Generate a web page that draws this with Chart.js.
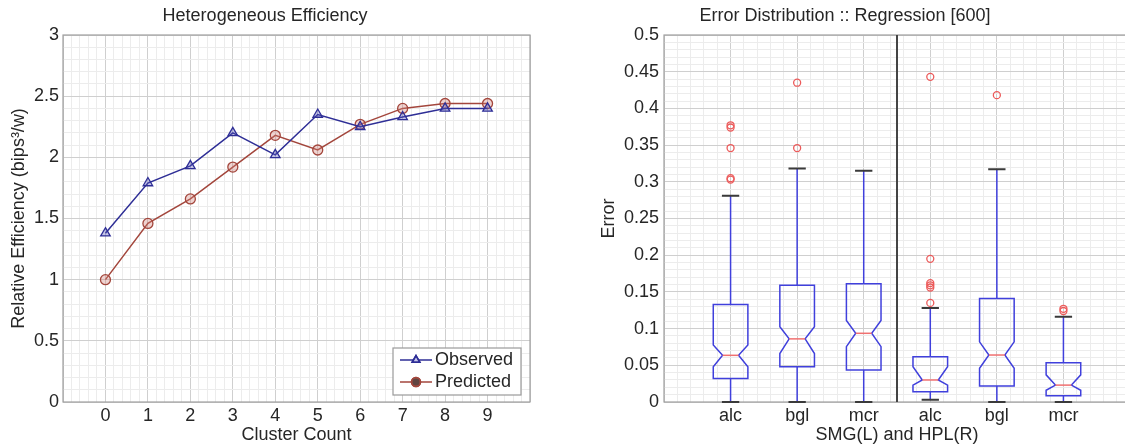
<!DOCTYPE html>
<html>
<head>
<meta charset="utf-8">
<script src="https://cdn.jsdelivr.net/npm/chart.js@4.4.0/dist/chart.umd.min.js"></script>
<style>
  html, body { margin: 0; padding: 0; background: #fff; overflow: hidden; width: 1125px; height: 448px; }
  #left { position: absolute; left: 0; top: 0; width: 560px; height: 448px; }
  #right { position: absolute; left: 560px; top: 0; width: 600px; height: 448px; }
</style>
</head>
<body>
<div id="left"><canvas id="efficiency-chart"></canvas></div>
<div id="right"><canvas id="error-chart"></canvas></div>
<script>
// left panel: heterogeneous efficiency
const clusterCounts = [0, 1, 2, 3, 4, 5, 6, 7, 8, 9];
const observed = [1.38, 1.79, 1.93, 2.20, 2.02, 2.35, 2.25, 2.33, 2.40, 2.40];
const predicted = [1.00, 1.46, 1.66, 1.92, 2.18, 2.06, 2.27, 2.40, 2.44, 2.44];

// right panel: error boxplots (SMG left three, HPL right three)
const boxLabels = ['alc', 'bgl', 'mcr', 'alc', 'bgl', 'mcr'];
const whiskerLow = [0, 0, 0, 0.003, 0, 0];
const q1 = [0.032, 0.048, 0.0436, 0.014, 0.0218, 0.0086];
const notchLow = [0.048, 0.066, 0.0754, 0.023, 0.046, 0.016];
const medians = [0.0636, 0.086, 0.0936, 0.030, 0.064, 0.023];
const notchHigh = [0.0777, 0.1026, 0.111, 0.048, 0.082, 0.037];
const q3 = [0.133, 0.159, 0.161, 0.0618, 0.141, 0.0536];
const whiskerHigh = [0.281, 0.318, 0.315, 0.128, 0.317, 0.116];
const outliers = [
  [0.303, 0.305, 0.346, 0.374, 0.377],
  [0.346, 0.435],
  [],
  [0.135, 0.156, 0.159, 0.162, 0.195, 0.443],
  [0.418],
  [0.124, 0.127]
];

const FONT = "'Liberation Sans', Arial, sans-serif";
const TEXT = '#262626';
const GRID_MAJOR = '#cfcfcf';
const GRID_MINOR = '#ececec';

function stepTicks(min, max, step) {
  const out = [];
  const n = Math.round((max - min) / step);
  for (let i = 0; i <= n; i++) out.push({ value: +(min + i * step).toFixed(6) });
  return out;
}
const isMajor = (v, major) => Math.abs(v / major - Math.round(v / major)) < 1e-6;
const fmt = v => String(+v.toFixed(2));

// gray box round the axes
const axesBox = {
  id: 'axesBox',
  beforeDatasetsDraw(chart) {
    const { ctx, chartArea: a } = chart;
    ctx.save();
    ctx.strokeStyle = '#a0a0a0';
    ctx.lineWidth = 1.2;
    ctx.strokeRect(a.left, a.top, a.right - a.left, a.bottom - a.top);
    ctx.restore();
  }
};

// matlab style legend, line + marker
const lineLegend = {
  id: 'lineLegend',
  afterDraw(chart) {
    const { ctx, chartArea: a } = chart;
    const w = 128, h = 47;
    const x0 = a.right - 9 - w, y0 = a.bottom - 7 - h;
    ctx.save();
    ctx.fillStyle = '#fff';
    ctx.fillRect(x0, y0, w, h);
    ctx.strokeStyle = '#9a9a9a';
    ctx.lineWidth = 1.2;
    ctx.strokeRect(x0, y0, w, h);
    ctx.font = '18px ' + FONT;
    ctx.textBaseline = 'middle';
    chart.data.datasets.forEach((ds, i) => {
      const y = y0 + 12 + i * 22;
      ctx.strokeStyle = ds.borderColor;
      ctx.lineWidth = 1.5;
      ctx.beginPath();
      ctx.moveTo(x0 + 7, y);
      ctx.lineTo(x0 + 39, y);
      ctx.stroke();
      Chart.helpers.drawPoint(ctx, {
        pointStyle: ds.pointStyle, radius: 4.5, borderWidth: 1.3, rotation: 0
      }, x0 + 23, y);
      ctx.fillStyle = ds.pointBackgroundColor;
      ctx.fill();
      ctx.stroke();
      ctx.fillStyle = TEXT;
      ctx.fillText(ds.label, x0 + 42, y);
    });
    ctx.restore();
  }
};

new Chart(document.getElementById('efficiency-chart'), {
  type: 'line',
  data: {
    datasets: [
      {
        label: 'Observed',
        data: clusterCounts.map((c, i) => ({ x: c, y: observed[i] })),
        borderColor: '#2e2e96',
        borderWidth: 1.5,
        pointStyle: 'triangle',
        pointRadius: 5.5,
        pointBorderWidth: 1.3,
        pointBackgroundColor: 'rgba(90,90,190,0.35)',
        pointBorderColor: '#2e2e96'
      },
      {
        label: 'Predicted',
        data: clusterCounts.map((c, i) => ({ x: c, y: predicted[i] })),
        borderColor: '#a3463c',
        borderWidth: 1.5,
        pointStyle: 'circle',
        pointRadius: 5,
        pointBorderWidth: 1.3,
        pointBackgroundColor: 'rgba(210,130,120,0.35)',
        pointBorderColor: '#a3463c'
      }
    ]
  },
  options: {
    responsive: true,
    maintainAspectRatio: false,
    animation: false,
    layout: { padding: { left: 0, right: 30, top: 0, bottom: 0 } },
    plugins: {
      legend: { display: false },
      tooltip: { enabled: false },
      title: {
        display: true,
        text: 'Heterogeneous Efficiency',
        color: TEXT,
        font: { family: FONT, size: 18, weight: 'normal' },
        padding: { top: 5, bottom: 8.4 }
      }
    },
    scales: {
      x: {
        type: 'linear',
        min: -1,
        max: 10,
        afterBuildTicks: s => { s.ticks = stepTicks(-1, 10, 0.2); },
        afterFit: s => { s.height = 46; },
        ticks: {
          autoSkip: false, maxRotation: 0, padding: 3, color: TEXT,
          font: { family: FONT, size: 18 },
          callback: v => (isMajor(v, 1) && v >= 0 && v <= 9) ? String(Math.round(v)) : ''
        },
        grid: { drawTicks: false, color: c => isMajor(c.tick.value, 1) ? GRID_MAJOR : GRID_MINOR },
        border: { display: false },
        title: { display: true, text: 'Cluster Count', color: TEXT, font: { family: FONT, size: 18 }, padding: { top: 0, bottom: 2 } }
      },
      y: {
        min: 0,
        max: 3,
        afterBuildTicks: s => { s.ticks = stepTicks(0, 3, 0.1); },
        afterFit: s => { s.width = 63; },
        ticks: {
          autoSkip: false, padding: 4, color: TEXT,
          font: { family: FONT, size: 18 },
          callback: v => isMajor(v, 0.5) ? fmt(v) : ''
        },
        grid: { drawTicks: false, color: c => isMajor(c.tick.value, 0.5) ? GRID_MAJOR : GRID_MINOR },
        border: { display: false },
        title: { display: true, text: 'Relative Efficiency (bips³/w)', color: TEXT, font: { family: FONT, size: 18 }, padding: { top: 8, bottom: 0 } }
      }
    }
  },
  plugins: [axesBox, lineLegend]
});

// notched boxes, whiskers and the SMG/HPL divider, all through the scales
const notchedBoxes = {
  id: 'notchedBoxes',
  beforeDatasetsDraw(chart) {
    const { ctx, scales: { x, y }, chartArea: a } = chart;
    const hw = 0.26, nw = 0.12, cw = 0.13;
    ctx.save();
    boxLabels.forEach((lab, i) => {
      const p = i + 1;
      const X = v => x.getPixelForValue(v);
      const Y = v => y.getPixelForValue(v);
      // whiskers
      ctx.strokeStyle = '#4040dc';
      ctx.lineWidth = 1.5;
      ctx.beginPath();
      ctx.moveTo(X(p), Y(q3[i])); ctx.lineTo(X(p), Y(whiskerHigh[i]));
      ctx.moveTo(X(p), Y(q1[i])); ctx.lineTo(X(p), Y(whiskerLow[i]));
      ctx.stroke();
      // caps
      ctx.strokeStyle = '#3a3a3a';
      ctx.lineWidth = 2;
      ctx.beginPath();
      ctx.moveTo(X(p - cw), Y(whiskerHigh[i])); ctx.lineTo(X(p + cw), Y(whiskerHigh[i]));
      ctx.moveTo(X(p - cw), Y(whiskerLow[i])); ctx.lineTo(X(p + cw), Y(whiskerLow[i]));
      ctx.stroke();
      // notched box
      ctx.strokeStyle = '#4040dc';
      ctx.lineWidth = 1.5;
      ctx.beginPath();
      ctx.moveTo(X(p - hw), Y(q3[i]));
      ctx.lineTo(X(p + hw), Y(q3[i]));
      ctx.lineTo(X(p + hw), Y(notchHigh[i]));
      ctx.lineTo(X(p + nw), Y(medians[i]));
      ctx.lineTo(X(p + hw), Y(notchLow[i]));
      ctx.lineTo(X(p + hw), Y(q1[i]));
      ctx.lineTo(X(p - hw), Y(q1[i]));
      ctx.lineTo(X(p - hw), Y(notchLow[i]));
      ctx.lineTo(X(p - nw), Y(medians[i]));
      ctx.lineTo(X(p - hw), Y(notchHigh[i]));
      ctx.closePath();
      ctx.stroke();
      // median
      ctx.strokeStyle = '#f07070';
      ctx.lineWidth = 1.5;
      ctx.beginPath();
      ctx.moveTo(X(p - nw), Y(medians[i])); ctx.lineTo(X(p + nw), Y(medians[i]));
      ctx.stroke();
    });
    // divider between SMG and HPL groups
    const xd = x.getPixelForValue(3.5);
    ctx.strokeStyle = '#444';
    ctx.lineWidth = 2;
    ctx.beginPath();
    ctx.moveTo(xd, a.top); ctx.lineTo(xd, a.bottom);
    ctx.stroke();
    ctx.restore();
  }
};

new Chart(document.getElementById('error-chart'), {
  type: 'scatter',
  data: {
    datasets: [{
      label: 'outliers',
      data: outliers.flatMap((arr, i) => arr.map(v => ({ x: i + 1, y: v }))),
      pointStyle: 'circle',
      pointRadius: 3.5,
      pointBorderWidth: 1.3,
      pointBorderColor: '#ec5a5a',
      pointBackgroundColor: 'rgba(255,255,255,0)'
    }]
  },
  options: {
    responsive: true,
    maintainAspectRatio: false,
    animation: false,
    layout: { padding: { left: 0, right: 30, top: 0, bottom: 0 } },
    plugins: {
      legend: { display: false },
      tooltip: { enabled: false },
      title: {
        display: true,
        text: 'Error Distribution :: Regression [600]',
        color: TEXT,
        font: { family: FONT, size: 18, weight: 'normal' },
        padding: { top: 5, bottom: 8.4 }
      }
    },
    scales: {
      x: {
        type: 'linear',
        min: 0,
        max: 7,
        afterBuildTicks: s => { s.ticks = stepTicks(0, 7, 0.2); },
        afterFit: s => { s.height = 46; },
        ticks: {
          autoSkip: false, maxRotation: 0, padding: 3, color: TEXT,
          font: { family: FONT, size: 18 },
          callback: v => (isMajor(v, 1) && v >= 1 && v <= 6) ? boxLabels[Math.round(v) - 1] : ''
        },
        grid: { drawTicks: false, color: c => isMajor(c.tick.value, 1) ? GRID_MAJOR : GRID_MINOR },
        border: { display: false },
        title: { display: true, text: 'SMG(L) and HPL(R)', color: TEXT, font: { family: FONT, size: 18 }, padding: { top: 0, bottom: 2 } }
      },
      y: {
        min: 0,
        max: 0.5,
        afterBuildTicks: s => { s.ticks = stepTicks(0, 0.5, 0.01); },
        afterFit: s => { s.width = 104; },
        ticks: {
          autoSkip: false, padding: 5, color: TEXT,
          font: { family: FONT, size: 18 },
          callback: v => isMajor(v, 0.05) ? fmt(v) : ''
        },
        grid: { drawTicks: false, color: c => isMajor(c.tick.value, 0.05) ? GRID_MAJOR : GRID_MINOR },
        border: { display: false },
        title: { display: true, text: 'Error', color: TEXT, font: { family: FONT, size: 18 }, padding: { top: 38, bottom: 0 } }
      }
    }
  },
  plugins: [axesBox, notchedBoxes]
});
</script>
</body>
</html>
